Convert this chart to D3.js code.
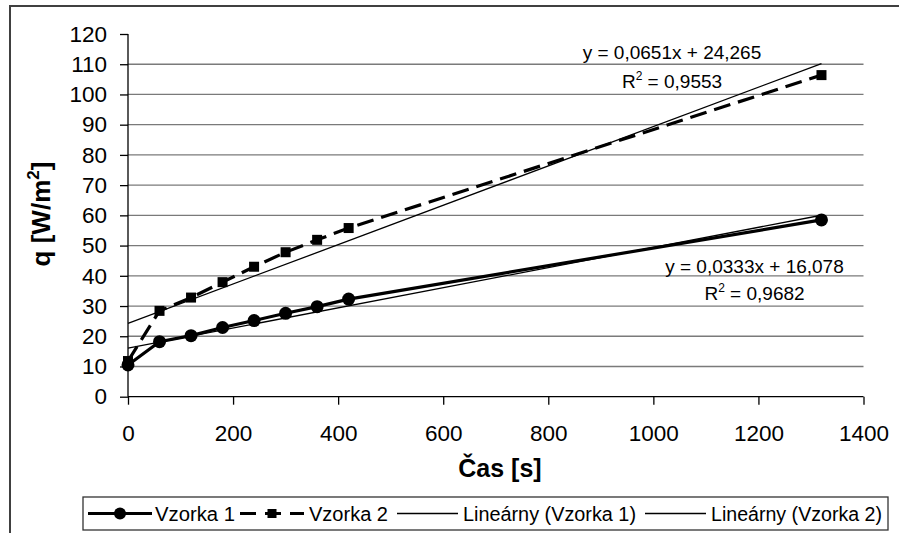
<!DOCTYPE html>
<html><head><meta charset="utf-8">
<script src="https://cdn.jsdelivr.net/npm/d3@7"></script>
<style>
html,body{margin:0;padding:0;background:#fff;}
svg{display:block;font-family:"Liberation Sans",Arial,sans-serif;}
</style></head>
<body>
<svg id="chart" width="899" height="533"></svg>
<script>
// ---- data ----
const times = [0, 60, 120, 180, 240, 300, 360, 420, 1320];
const vzorka1 = [10.5, 18.2, 20.2, 22.9, 25.2, 27.6, 29.8, 32.3, 58.5];
const vzorka2 = [11.8, 28.4, 32.8, 37.9, 43.0, 47.8, 51.9, 55.8, 106.4];
const trend1 = {slope: 0.0333, intercept: 16.078};
const trend2 = {slope: 0.0651, intercept: 24.265};
const xTicks = [0, 200, 400, 600, 800, 1000, 1200, 1400];
const yTicks = [0, 10, 20, 30, 40, 50, 60, 70, 80, 90, 100, 110, 120];
const eq1Text = ["y = 0,0333x + 16,078", "0,9682"];
const eq2Text = ["y = 0,0651x + 24,265", "0,9553"];
const legendLabels = ["Vzorka 1", "Vzorka 2", "Lineárny (Vzorka 1)", "Lineárny (Vzorka 2)"];

const svg = d3.select("#chart");
const x = d3.scaleLinear().domain([0, 1400]).range([128, 863.5]);
const y = d3.scaleLinear().domain([0, 120]).range([396.7, 34]);

// outer border
svg.append("rect").attr("x", 10).attr("y", 6).attr("width", 900).attr("height", 540)
  .attr("fill", "none").attr("stroke", "#404040").attr("stroke-width", 2);

// gridlines
svg.append("g").selectAll("line").data(yTicks.filter(v => v > 0 && v < 120)).join("line")
  .attr("x1", x(0)).attr("x2", x(1400)).attr("y1", d => y(d)).attr("y2", d => y(d))
  .attr("stroke", "#7a7a7a").attr("stroke-width", 1.3);

// axes
const yAxis = svg.append("g").attr("transform", `translate(${x(0)},0)`)
  .call(d3.axisLeft(y).tickValues(yTicks).tickSize(8).tickPadding(13).tickFormat(d3.format("d")));
const xAxis = svg.append("g").attr("transform", `translate(0,${y(0)})`)
  .call(d3.axisBottom(x).tickValues(xTicks).tickSize(8).tickPadding(20).tickFormat(d3.format("d")));
[yAxis, xAxis].forEach(a => {
  a.select(".domain").attr("stroke", "#000").attr("stroke-width", 1.3);
  a.selectAll(".tick line").attr("stroke", "#000").attr("stroke-width", 1.3);
  a.selectAll("text").attr("font-size", 22.5).attr("fill", "#000")
    .attr("font-family", "'Liberation Sans',Arial,sans-serif");
});
yAxis.select(".domain").attr("d", `M0,${y(120)}V${y(0)}`);
xAxis.select(".domain").attr("d", `M${x(0)},0H${x(1400)}`);

// axis titles
const yt = svg.append("text").attr("transform", "translate(50,214) rotate(-90)")
  .attr("text-anchor", "middle").attr("font-size", 26).attr("font-weight", "bold");
yt.append("tspan").text("q [W/m");
yt.append("tspan").text("2").attr("font-size", 17).attr("dy", -11);
yt.append("tspan").text("]").attr("dy", 11);
svg.append("text").attr("x", 500).attr("y", 476.7).attr("text-anchor", "middle")
  .attr("font-size", 25).attr("font-weight", "bold").text("Čas [s]");

// series
const pts1 = times.map((t, i) => [t, vzorka1[i]]);
const pts2 = times.map((t, i) => [t, vzorka2[i]]);
const line = d3.line().x(d => x(d[0])).y(d => y(d[1]));

svg.append("path").datum(pts2).attr("d", line).attr("fill", "none")
  .attr("stroke", "#000").attr("stroke-width", 3.2).attr("stroke-dasharray", "17,8");
svg.append("g").selectAll("rect").data(pts2).join("rect")
  .attr("x", d => x(d[0]) - 5).attr("y", d => y(d[1]) - 5)
  .attr("width", 10).attr("height", 10).attr("fill", "#000");

svg.append("path").datum(pts1).attr("d", line).attr("fill", "none")
  .attr("stroke", "#000").attr("stroke-width", 3.2);
svg.append("g").selectAll("circle").data(pts1).join("circle")
  .attr("cx", d => x(d[0])).attr("cy", d => y(d[1])).attr("r", 6.5).attr("fill", "#000");

// trendlines
[trend1, trend2].forEach(t => {
  const tp = [0, 1320].map(v => [v, t.slope * v + t.intercept]);
  svg.append("path").datum(tp).attr("d", line).attr("fill", "none")
    .attr("stroke", "#000").attr("stroke-width", 1.3);
});

// equations
function eq(cx, y1, y2, txt) {
  svg.append("text").attr("x", cx).attr("y", y1).attr("text-anchor", "middle")
    .attr("font-size", 19).text(txt[0]);
  const r = svg.append("text").attr("x", cx).attr("y", y2).attr("text-anchor", "middle")
    .attr("font-size", 19);
  r.append("tspan").text("R");
  r.append("tspan").text("2").attr("font-size", 12).attr("dy", -8);
  r.append("tspan").text(" = " + txt[1]).attr("dy", 8);
}
eq(672, 59.3, 88.3, eq2Text);
eq(754.5, 272.7, 300, eq1Text);

// legend
const lg = svg.append("g");
lg.append("rect").attr("x", 83).attr("y", 497).attr("width", 805).attr("height", 33)
  .attr("fill", "#fff").attr("stroke", "#333").attr("stroke-width", 1.3);
const items = [
  {x1: 88, x2: 152, tx: 155, type: "circle"},
  {x1: 240, x2: 304, tx: 309, type: "square"},
  {x1: 397, x2: 458, tx: 463, type: "thin"},
  {x1: 645, x2: 706, tx: 711, type: "thin"}
];
const ly = 513.5;
items.forEach((it, i) => {
  if (it.type === "thin") {
    lg.append("line").attr("x1", it.x1).attr("x2", it.x2).attr("y1", ly).attr("y2", ly)
      .attr("stroke", "#000").attr("stroke-width", 1.3);
  } else if (it.type === "circle") {
    lg.append("line").attr("x1", it.x1).attr("x2", it.x2).attr("y1", ly).attr("y2", ly)
      .attr("stroke", "#000").attr("stroke-width", 3.2);
    lg.append("circle").attr("cx", (it.x1 + it.x2) / 2).attr("cy", ly).attr("r", 6).attr("fill", "#000");
  } else {
    lg.append("line").attr("x1", it.x1).attr("x2", it.x2).attr("y1", ly).attr("y2", ly)
      .attr("stroke", "#000").attr("stroke-width", 3.2).attr("stroke-dasharray", "16,9");
    lg.append("rect").attr("x", (it.x1 + it.x2) / 2 - 4.5).attr("y", ly - 4.5)
      .attr("width", 9).attr("height", 9).attr("fill", "#000");
  }
  lg.append("text").attr("x", it.tx).attr("y", 520.5).attr("font-size", 20)
    .attr("textLength", [80, 79, 173, 171][i]).attr("lengthAdjust", "spacingAndGlyphs")
    .text(legendLabels[i]);
});
</script>
</body></html>
